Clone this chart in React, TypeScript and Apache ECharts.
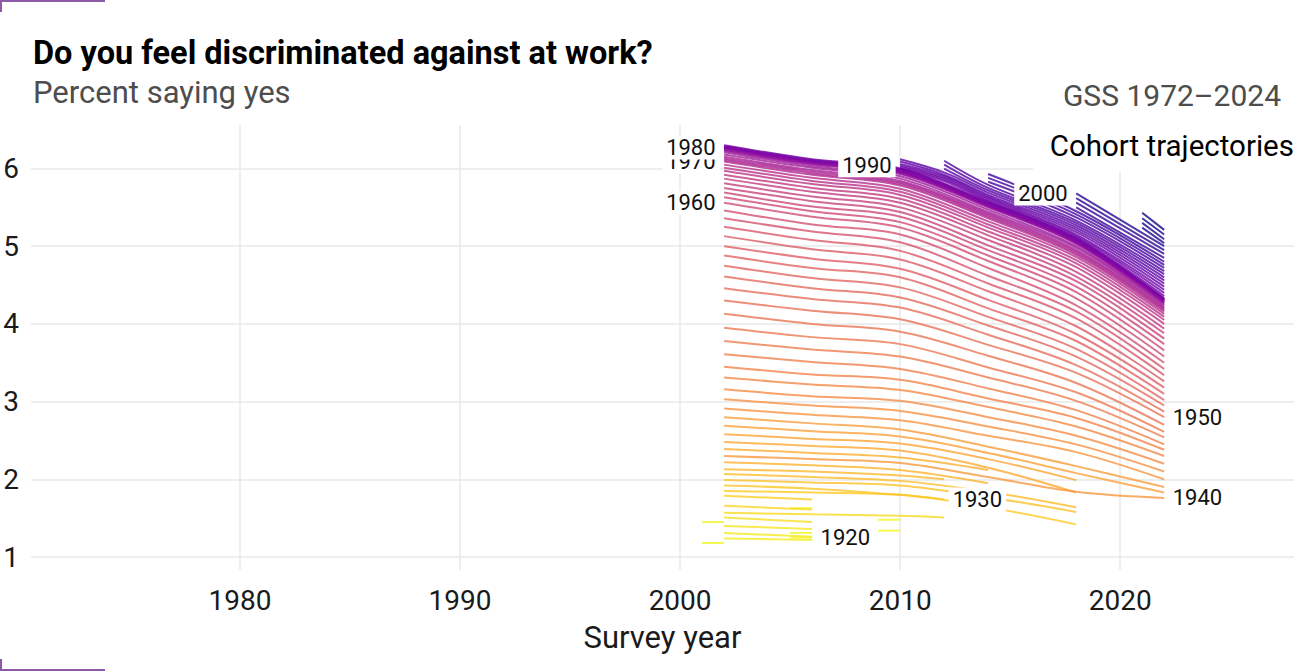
import { useEffect, useRef } from "react";
import * as echarts from "echarts";

// waves in which the work-discrimination item was asked
const surveyYears = [2002, 2006, 2010, 2014, 2018, 2022];

// birth cohorts present in every wave: values at surveyYears
const fullCohorts: [number, number[]][] = [
  [1938, [2.69, 2.62, 2.55, 2.34, 2.08, 1.83]],
  [1939, [2.8, 2.72, 2.64, 2.42, 2.17, 1.9]],
  [1940, [2.3, 2.26, 2.21, 2.03, 1.84, 1.76]],
  [1941, [2.91, 2.83, 2.76, 2.56, 2.35, 2.0]],
  [1942, [3.03, 2.95, 2.88, 2.68, 2.45, 2.1]],
  [1943, [3.16, 3.07, 3.01, 2.8, 2.56, 2.2]],
  [1944, [3.31, 3.22, 3.15, 2.93, 2.68, 2.3]],
  [1945, [3.45, 3.35, 3.28, 3.04, 2.79, 2.38]],
  [1946, [3.61, 3.51, 3.42, 3.17, 2.89, 2.45]],
  [1947, [3.78, 3.67, 3.58, 3.31, 3.01, 2.54]],
  [1948, [3.95, 3.83, 3.74, 3.44, 3.12, 2.61]],
  [1949, [4.13, 4.0, 3.9, 3.59, 3.24, 2.7]],
  [1950, [4.3, 4.17, 4.06, 3.73, 3.37, 2.8]],
  [1951, [4.46, 4.32, 4.21, 3.86, 3.47, 2.87]],
  [1952, [4.61, 4.46, 4.34, 3.98, 3.58, 2.95]],
  [1953, [4.75, 4.59, 4.47, 4.09, 3.68, 3.02]],
  [1954, [4.88, 4.72, 4.6, 4.2, 3.78, 3.1]],
  [1955, [5.0, 4.84, 4.71, 4.31, 3.87, 3.18]],
  [1956, [5.13, 4.96, 4.83, 4.42, 3.97, 3.26]],
  [1957, [5.25, 5.08, 4.94, 4.52, 4.07, 3.34]],
  [1958, [5.36, 5.19, 5.05, 4.62, 4.16, 3.42]],
  [1959, [5.46, 5.28, 5.15, 4.72, 4.24, 3.5]],
  [1960, [5.56, 5.38, 5.24, 4.81, 4.33, 3.58]],
  [1961, [5.63, 5.45, 5.31, 4.88, 4.41, 3.66]],
  [1962, [5.69, 5.51, 5.38, 4.95, 4.48, 3.74]],
  [1963, [5.75, 5.58, 5.44, 5.01, 4.55, 3.81]],
  [1964, [5.81, 5.64, 5.5, 5.08, 4.61, 3.88]],
  [1965, [5.87, 5.7, 5.56, 5.14, 4.67, 3.94]],
  [1966, [5.92, 5.75, 5.61, 5.19, 4.73, 4.0]],
  [1967, [5.97, 5.8, 5.66, 5.24, 4.78, 4.05]],
  [1968, [6.01, 5.84, 5.7, 5.28, 4.82, 4.09]],
  [1969, [6.05, 5.88, 5.74, 5.32, 4.86, 4.13]],
  [1970, [6.09, 5.92, 5.78, 5.36, 4.89, 4.16]],
  [1971, [6.11, 5.94, 5.8, 5.38, 4.91, 4.18]],
  [1972, [6.13, 5.96, 5.82, 5.4, 4.93, 4.2]],
  [1973, [6.15, 5.98, 5.84, 5.42, 4.95, 4.22]],
  [1974, [6.18, 6.01, 5.87, 5.44, 4.98, 4.24]],
  [1975, [6.21, 6.03, 5.9, 5.47, 5.0, 4.26]],
  [1976, [6.23, 6.05, 5.93, 5.5, 5.03, 4.27]],
  [1977, [6.24, 6.06, 5.94, 5.51, 5.04, 4.28]],
  [1978, [6.25, 6.07, 5.95, 5.52, 5.05, 4.29]],
  [1979, [6.26, 6.08, 5.96, 5.53, 5.06, 4.3]],
  [1980, [6.27, 6.09, 5.96, 5.53, 5.06, 4.3]],
  [1981, [6.27, 6.09, 5.97, 5.54, 5.07, 4.31]],
  [1982, [6.28, 6.1, 5.98, 5.55, 5.08, 4.32]],
  [1983, [6.29, 6.11, 5.99, 5.56, 5.09, 4.32]],
  [1984, [6.3, 6.12, 6.0, 5.57, 5.1, 4.33]],
];

// older cohorts that drop out before 2022: [year, value]
const oldCohorts: [number, number[][]][] = [
  [1915, [[2005, 1.31], [2006, 1.31]]],
  [1916, [[2005, 1.63], [2006, 1.63]]],
  [1917, [[2009, 1.34], [2010, 1.34]]],
  [1918, [[2009, 1.48], [2010, 1.48]]],
  [1919, [[2001, 1.18], [2002, 1.18]]],
  [1920, [[2005, 1.25], [2006, 1.25]]],
  [1921, [[2001, 1.45], [2002, 1.45]]],
  [1922, [[2002, 1.24], [2006, 1.22]]],
  [1923, [[2002, 1.31], [2006, 1.26]]],
  [1924, [[2002, 1.4], [2006, 1.36]]],
  [1925, [[2002, 1.51], [2006, 1.45]]],
  [1926, [[2002, 1.57], [2006, 1.55], [2010, 1.53], [2012, 1.51]]],
  [1927, [[2002, 1.66], [2006, 1.61]]],
  [1928, [[2002, 1.79], [2006, 1.74]]],
  [1929, [[2002, 1.85], [2006, 1.83], [2010, 1.8], [2014, 1.64], [2018, 1.42]]],
  [1930, [[2002, 1.92], [2006, 1.88], [2010, 1.8], [2012, 1.74]]],
  [1931, [[2002, 1.99], [2006, 1.96], [2010, 1.92], [2014, 1.77], [2018, 1.58]]],
  [1932, [[2002, 2.07], [2006, 2.03], [2010, 1.98], [2014, 1.84], [2018, 1.64]]],
  [1933, [[2002, 2.13], [2006, 2.1], [2010, 2.05], [2012, 2.0]]],
  [1934, [[2002, 2.22], [2006, 2.18], [2010, 2.12], [2014, 1.95]]],
  [1935, [[2002, 2.39], [2006, 2.34], [2010, 2.28], [2014, 2.12]]],
  [1936, [[2002, 2.48], [2006, 2.43], [2010, 2.37], [2014, 2.15], [2018, 1.83]]],
  [1937, [[2002, 2.58], [2006, 2.52], [2010, 2.46], [2014, 2.26], [2018, 1.99]]],
];

// younger cohorts that enter after 2002: [year, value]
const youngCohorts: [number, number[][]][] = [
  [1985, [[2010, 6.0], [2012, 5.84], [2014, 5.58], [2018, 5.11], [2022, 4.36]]],
  [1986, [[2010, 6.02], [2012, 5.86], [2014, 5.6], [2018, 5.13], [2022, 4.4]]],
  [1987, [[2010, 6.04], [2012, 5.88], [2014, 5.62], [2018, 5.15], [2022, 4.44]]],
  [1988, [[2010, 6.06], [2012, 5.9], [2014, 5.64], [2018, 5.18], [2022, 4.48]]],
  [1989, [[2010, 6.09], [2012, 5.92], [2014, 5.66], [2018, 5.21], [2022, 4.52]]],
  [1990, [[2010, 6.12], [2012, 5.95], [2014, 5.69], [2018, 5.24], [2022, 4.56]]],
  [1991, [[2012, 6.0], [2014, 5.72], [2018, 5.27], [2022, 4.6]]],
  [1992, [[2012, 6.05], [2014, 5.75], [2018, 5.3], [2022, 4.64]]],
  [1993, [[2012, 6.1], [2014, 5.79], [2018, 5.33], [2022, 4.68]]],
  [1994, [[2014, 5.83], [2018, 5.37], [2022, 4.72]]],
  [1995, [[2014, 5.88], [2018, 5.41], [2022, 4.76]]],
  [1996, [[2014, 5.93], [2018, 5.45], [2022, 4.8]]],
  [1997, [[2018, 5.5], [2022, 4.85]]],
  [1998, [[2018, 5.56], [2022, 4.9]]],
  [1999, [[2018, 5.62], [2022, 4.95]]],
  [2000, [[2018, 5.68], [2022, 5.0]]],
  [2001, [[2021, 5.24], [2022, 5.04]]],
  [2002, [[2021, 5.3], [2022, 5.09]]],
  [2003, [[2021, 5.36], [2022, 5.15]]],
  [2004, [[2021, 5.43], [2022, 5.21]]],
];

const labelCohorts = [1920, 1930, 1940, 1950, 1960, 1970, 1980, 1990, 2000];
const startLabelled = [1960, 1970, 1980, 1990, 2000];
const labelNudge: Record<number, number[]> = { 1990: [0, 6] };

// colour scale runs from the oldest labelled cohort to the youngest
const colourFrom = 1920;

const plasmaStops = [
  "#0d0887", "#41049d", "#6a00a8", "#8f0da4", "#b12a90", "#cc4778",
  "#e16462", "#f2844b", "#fca636", "#fcce25", "#f0f921",
];

function plasma(t: number): string {
  const p = Math.max(0, Math.min(1, t)) * (plasmaStops.length - 1);
  const i = Math.min(plasmaStops.length - 2, Math.floor(p));
  const f = p - i;
  const a = plasmaStops[i];
  const b = plasmaStops[i + 1];
  const ch = (h: string, k: number) => parseInt(h.slice(1 + k * 2, 3 + k * 2), 16);
  const rgb = [0, 1, 2].map((k) => Math.round(ch(a, k) + (ch(b, k) - ch(a, k)) * f));
  return `rgb(${rgb.join(",")})`;
}

const FONT = "Roboto";

export default function App() {
  const chartRef = useRef<HTMLDivElement>(null);

  useEffect(() => {
    if (!chartRef.current) return;
    const chart = echarts.init(chartRef.current, undefined, { renderer: "svg" });

    const trajectories = new Map<number, number[][]>();
    fullCohorts.forEach(([c, vals]) =>
      trajectories.set(c, vals.map((v, i) => [surveyYears[i], v])),
    );
    oldCohorts.forEach(([c, pts]) => trajectories.set(c, pts));
    youngCohorts.forEach(([c, pts]) => trajectories.set(c, pts));
    const cohorts = [...trajectories.keys()].sort((a, b) => a - b);
    const last = cohorts[cohorts.length - 1];

    const lineSeries = cohorts.map((c) => ({
      type: "line" as const,
      name: String(c),
      data: trajectories.get(c),
      showSymbol: false,
      symbol: "none",
      smooth: 0.35,
      silent: true,
      z: 2,
      lineStyle: { width: 2, color: plasma((last - c) / (last - colourFrom)), opacity: 0.8 },
    }));

    const labelSeries = {
      type: "scatter" as const,
      silent: true,
      z: 10,
      symbolSize: 1,
      itemStyle: { color: "rgba(0,0,0,0)", opacity: 1 },
      label: {
        show: true,
        fontFamily: FONT,
        fontSize: 22,
        color: "#111111",
        backgroundColor: "#ffffff",
        padding: [1, 4],
        distance: 4,
        opacity: 1,
      },
      data: labelCohorts.map((c) => {
        const pts = trajectories.get(c)!;
        const atStart = startLabelled.includes(c);
        return {
          value: atStart ? pts[0] : pts[pts.length - 1],
          label: {
            position: atStart ? "left" : "right",
            formatter: String(c),
            offset: labelNudge[c] ?? [0, 0],
          },
        };
      }),
    };

    const axisText = { fontFamily: FONT, fontSize: 28, color: "#1a1a1a" };
    const grid = { color: "#e8e8e8", width: 1.5 };
    const accent = "#8e5aa8";

    chart.setOption({
      animation: false,
      textStyle: { fontFamily: FONT },
      grid: { left: 31, right: 0, top: 125, bottom: 101 },
      xAxis: {
        type: "value",
        min: 1970.5,
        max: 2027.9,
        name: "Survey year",
        nameLocation: "middle",
        nameGap: 52,
        nameTextStyle: { ...axisText, fontSize: 31 },
        axisLine: { show: false },
        axisTick: { show: false },
        axisLabel: {
          ...axisText,
          margin: 16,
          showMinLabel: false,
          showMaxLabel: false,
          formatter: (v: number) => String(v),
        },
        splitLine: { show: true, showMinLine: false, showMaxLine: false, lineStyle: grid },
      },
      yAxis: {
        type: "value",
        min: 0.833,
        max: 6.56,
        axisLine: { show: false },
        axisTick: { show: false },
        axisLabel: {
          ...axisText,
          margin: 12,
          showMinLabel: false,
          showMaxLabel: false,
          formatter: (v: number) => String(v),
        },
        splitLine: { show: true, showMinLine: false, showMaxLine: false, lineStyle: grid },
      },
      series: [...lineSeries, labelSeries],
      graphic: [
        { type: "line", z: 20, shape: { x1: 0, y1: 1, x2: 105, y2: 1 }, style: { stroke: accent, lineWidth: 2 } },
        { type: "line", z: 20, shape: { x1: 1, y1: 0, x2: 1, y2: 12 }, style: { stroke: accent, lineWidth: 2 } },
        { type: "line", z: 20, shape: { x1: 0, y1: 670, x2: 105, y2: 670 }, style: { stroke: accent, lineWidth: 2 } },
        { type: "line", z: 20, shape: { x1: 1, y1: 659, x2: 1, y2: 671 }, style: { stroke: accent, lineWidth: 2 } },
        {
          type: "text", z: 20, x: 33, y: 53,
          style: { text: "Do you feel discriminated against at work?", font: `bold 32.5px ${FONT}`, fill: "#000", textAlign: "left", textVerticalAlign: "middle" },
        },
        {
          type: "text", z: 20, x: 33, y: 92,
          style: { text: "Percent saying yes", font: `31px ${FONT}`, fill: "#4d4d4d", textAlign: "left", textVerticalAlign: "middle" },
        },
        {
          type: "text", z: 20, x: 1281, y: 95,
          style: { text: "GSS 1972–2024", font: `30px ${FONT}`, fill: "#4d4d4d", textAlign: "right", textVerticalAlign: "middle" },
        },
        { type: "rect", z: 15, shape: { x: 1033, y: 121, width: 261, height: 51 }, style: { fill: "#ffffff" } },
        {
          type: "text", z: 20, x: 1294, y: 146,
          style: { text: "Cohort trajectories", font: `29.5px ${FONT}`, fill: "#000", textAlign: "right", textVerticalAlign: "middle" },
        },
      ],
    });

    return () => chart.dispose();
  }, []);

  return (
    <div
      ref={chartRef}
      style={{ position: "fixed", left: 0, top: 0, width: 1294, height: 671, background: "#fff" }}
    />
  );
}
